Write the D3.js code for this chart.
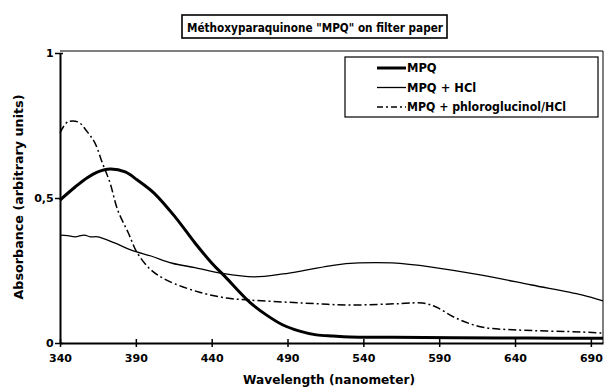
<!DOCTYPE html>
<html><head><meta charset="utf-8">
<script src="https://cdn.jsdelivr.net/npm/d3@7"></script>
<style>html,body{margin:0;padding:0;background:#fff;}svg{display:block;font-family:"DejaVu Sans",sans-serif;font-weight:bold;}</style>
</head><body>
<svg id="c" width="604" height="390"></svg>
<script>
const title = 'Méthoxyparaquinone "MPQ" on filter paper';
const xTicks = [340, 390, 440, 490, 540, 590, 640, 690];
const yTicks = [0, 0.5, 1];
const yTickLabels = ["0", "0,5", "1"];
const seriesNames = ["MPQ", "MPQ + HCl", "MPQ + phloroglucinol/HCl"];

const mpqX = [340, 350, 358, 365, 373, 383, 391, 402, 416, 429, 440, 449, 465, 476, 487, 498, 509, 520, 531, 560, 600, 650, 698];
const mpqY = [0.493, 0.538, 0.57, 0.59, 0.6, 0.59, 0.562, 0.517, 0.434, 0.345, 0.276, 0.228, 0.141, 0.097, 0.062, 0.041, 0.028, 0.024, 0.021, 0.02, 0.018, 0.017, 0.016];

const hclX = [340, 345, 350, 356, 360, 365, 376, 387, 400, 414, 429, 447, 468, 487, 503, 520, 537, 559, 585, 618, 651, 684, 698];
const hclY = [0.372, 0.37, 0.366, 0.372, 0.366, 0.366, 0.345, 0.32, 0.3, 0.275, 0.26, 0.24, 0.228, 0.238, 0.252, 0.268, 0.276, 0.276, 0.262, 0.234, 0.2, 0.166, 0.145];

const phlX = [340, 345, 352, 358, 363, 368, 373, 378, 385, 391, 400, 411, 432, 450, 465, 500, 531, 565, 579, 588, 601, 618, 641, 684, 698];
const phlY = [0.724, 0.762, 0.762, 0.728, 0.69, 0.62, 0.552, 0.459, 0.38, 0.31, 0.252, 0.215, 0.175, 0.155, 0.148, 0.138, 0.131, 0.136, 0.138, 0.124, 0.086, 0.055, 0.045, 0.038, 0.034];

const FONT = "DejaVu Sans, sans-serif";
const svg = d3.select("#c");
const x = d3.scaleLinear().domain([340, 698]).range([60, 603]);
const y = d3.scaleLinear().domain([0, 1]).range([343, 53]);

// title box
const tg = svg.append("g");
tg.append("rect").attr("x", 182).attr("y", 15).attr("width", 265).attr("height", 23)
  .attr("fill", "#fff").attr("stroke", "#000").attr("stroke-width", 1.6);
tg.append("text").attr("x", 315).attr("y", 31.5).attr("text-anchor", "middle")
  .attr("font-size", 12.5).attr("textLength", 256).attr("lengthAdjust", "spacingAndGlyphs").text(title);

// frame top and right
svg.append("line").attr("x1", 60).attr("x2", 603).attr("y1", 51).attr("y2", 51).attr("stroke", "#000").attr("stroke-width", 1.2);
svg.append("line").attr("x1", 603).attr("x2", 603).attr("y1", 51).attr("y2", 343).attr("stroke", "#000").attr("stroke-width", 1);

// axes
const xAxis = d3.axisBottom(x).tickValues(xTicks).tickSize(0).tickFormat(d3.format("d"));
const gx = svg.append("g").attr("transform", "translate(0,343)").call(xAxis);
gx.select(".domain").attr("stroke-width", 2.2);
gx.selectAll(".tick").append("line").attr("y1", -4).attr("y2", 4).attr("stroke", "#000").attr("stroke-width", 1.5);
gx.selectAll("text").attr("font-size", 11).attr("font-weight", "bold").attr("font-family", FONT).attr("dy", "1.45em").attr("fill", "#000");

const yAxis = d3.axisLeft(y).tickValues(yTicks).tickSize(0).tickFormat((d, i) => yTickLabels[i]);
const gy = svg.append("g").attr("transform", "translate(60,0)").call(yAxis);
gy.select(".domain").attr("stroke-width", 2);
gy.selectAll(".tick").append("line").attr("x1", -5).attr("x2", 3).attr("stroke", "#000").attr("stroke-width", 1.5);
gy.selectAll("text").attr("font-size", 11).attr("font-weight", "bold").attr("font-family", FONT).attr("dx", "-0.3em").attr("fill", "#000");

// axis titles
svg.append("text").attr("x", 329).attr("y", 384).attr("text-anchor", "middle").attr("font-size", 13)
  .attr("textLength", 172).attr("lengthAdjust", "spacingAndGlyphs").text("Wavelength (nanometer)");
svg.append("text").attr("transform", "translate(23,197) rotate(-90)").attr("text-anchor", "middle").attr("font-size", 13)
  .attr("textLength", 205).attr("lengthAdjust", "spacingAndGlyphs").text("Absorbance (arbitrary units)");

// lines
const line = d3.line().x(d => x(d[0])).y(d => y(d[1])).curve(d3.curveCatmullRom.alpha(0.5));
const plot = svg.append("g");
plot.append("path").datum(hclX.map((v, i) => [v, hclY[i]])).attr("d", line)
  .attr("fill", "none").attr("stroke", "#000").attr("stroke-width", 1.3);
plot.append("path").datum(phlX.map((v, i) => [v, phlY[i]])).attr("d", line)
  .attr("fill", "none").attr("stroke", "#000").attr("stroke-width", 1.5).attr("stroke-dasharray", "8,3,2,3");
plot.append("path").datum(mpqX.map((v, i) => [v, mpqY[i]])).attr("d", line)
  .attr("fill", "none").attr("stroke", "#000").attr("stroke-width", 3);

// legend
const lg = svg.append("g");
lg.append("rect").attr("x", 345).attr("y", 57).attr("width", 253).attr("height", 60)
  .attr("fill", "#fff").attr("stroke", "#000").attr("stroke-width", 1.2);
const styles = [{w: 3, d: null}, {w: 1.3, d: null}, {w: 1.5, d: "6,3,2,3"}];
seriesNames.forEach((n, i) => {
  const yy = 68 + i * 19.5;
  const l = lg.append("line").attr("x1", 377).attr("x2", 406).attr("y1", yy).attr("y2", yy)
    .attr("stroke", "#000").attr("stroke-width", styles[i].w);
  if (styles[i].d) l.attr("stroke-dasharray", styles[i].d);
  lg.append("text").attr("x", 407).attr("y", yy + 4).attr("font-size", 11.5)
    .attr("textLength", i === 2 ? 159 : null).attr("lengthAdjust", "spacingAndGlyphs").text(n);
});
</script>
</body></html>
